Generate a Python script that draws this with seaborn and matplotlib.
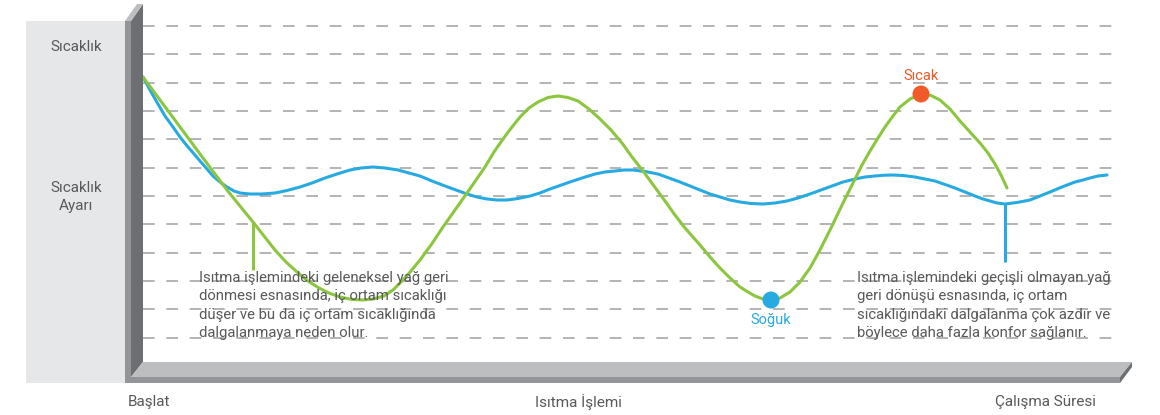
import numpy as np
import pandas as pd
import matplotlib
matplotlib.use('Agg')
import matplotlib.pyplot as plt
import seaborn as sns
from matplotlib.patches import Polygon, Rectangle

sns.set_theme(style='white')
plt.rcParams['font.family'] = ['Roboto', 'DejaVu Sans']

#%% data (time and temperature in arbitrary units)
green_t = [0, 20, 40, 60, 84, 110, 121, 132, 143, 154, 165, 176, 187, 197, 208, 219, 230, 241,
           250, 259, 268, 277, 288, 300, 312, 324, 333, 342, 351, 360, 369, 377, 386, 395,
           405, 415, 425, 435, 446, 457, 468, 479, 489, 500, 511, 522, 532, 542, 557, 567,
           577, 587, 597, 605, 612, 620, 628, 637, 647, 657, 667, 678, 689, 700, 712, 719,
           727, 735, 742, 750, 757, 767, 778, 788, 797, 807, 817, 827, 837, 845, 852, 858, 864]
green_temp = [289, 262, 235, 208, 176, 144, 130, 116, 104, 94, 85, 78, 72.5, 69, 66.7, 66, 67, 70,
              76, 85, 95, 106, 121, 139, 156, 173, 186, 199, 214, 227, 239, 249, 258, 264,
              268.5, 270, 268.5, 265, 257, 247, 236, 223, 209, 195, 180, 165, 151, 138, 121, 109,
              98, 88, 79, 74, 70, 67, 66, 68, 74, 84, 98, 118, 140, 163, 187, 201,
              215, 228, 239, 250, 259, 267, 272, 270.5, 266, 257, 245, 234, 223, 213, 202, 191, 178]

blue_t = [0, 7, 15, 22, 30, 37, 45, 52, 57, 64, 70, 77, 84, 91, 97, 107, 119, 132, 144, 157,
          169, 182, 194, 207, 218, 230, 242, 255, 266, 277, 289, 302, 313, 324, 334, 344, 354,
          364, 375, 387, 397, 407, 417, 427, 439, 452, 462, 472, 481, 490, 502, 515, 526,
          537, 547, 557, 567, 577, 587, 597, 608, 620, 632, 644, 655, 667, 678, 689, 700,
          712, 722, 732, 740, 749, 760, 772, 782, 792, 802, 812, 822, 832, 840, 847, 854,
          862, 874, 887, 897, 907, 919, 932, 940, 947, 955, 964]
blue_temp = [289, 276, 262, 250, 239, 229, 219, 211, 205, 197, 190, 184, 179, 175, 173, 172, 172,
             173, 175.5, 179, 183, 188, 192, 196, 198, 199, 198, 196, 193, 190, 185, 180, 176,
             172, 169, 167, 166, 166, 167.5, 170, 173, 177, 180.5, 184, 188, 192, 194, 195,
             196, 196, 194.5, 192, 188, 184, 180, 176, 172, 169, 166, 164, 162.5, 162, 163,
             165, 168, 172, 176, 180, 184, 187, 189, 190, 190.7, 191, 190.5, 189, 187, 185,
             181.5, 178, 174, 170, 167, 165, 163, 162, 163.5, 166, 170, 174, 179, 184, 186,
             188, 190, 191]

grid_levels = [28.3, 56.7, 85.0, 113.3, 141.7, 170.0, 198.3, 226.7, 255.0, 283.3, 311.7, 340.0]

point_t = [778, 628]
point_temp = [272, 66]
point_name = ['Sıcak', 'Soğuk']

green_lead = [110, 144, 96]   # x, top, bottom
blue_lead = [862, 162, 104]

txt_left = ('Isıtma işlemindeki geleneksel yağ geri\n'
            'dönmesi esnasında, iç ortam sıcaklığı\n'
            'düşer ve bu da iç ortam sıcaklığında\n'
            'dalgalanmaya neden olur.')
txt_right = ('Isıtma işlemindeki geçişli olmayan yağ\n'
             'geri dönüşü esnasında, iç ortam\n'
             'sıcaklığındaki dalgalanma çok azdır ve\n'
             'böylece daha fazla konfor sağlanır.')

GREEN = '#8cc63f'
BLUE = '#27aae1'
ORANGE = '#f15a29'
TXT = '#58595b'

#%% figure + background decoration (pixel coords)
W, H = 1160, 415
fig = plt.figure(figsize=(W / 100, H / 100), dpi=100)
bg = fig.add_axes([0, 0, 1, 1])
bg.set_xlim(0, W); bg.set_ylim(H, 0); bg.axis('off')

bg.add_patch(Rectangle((26, 21), 99, 362, color='#e6e7e8', lw=0))
# wall
bg.add_patch(Polygon([(131, 21), (143, 4), (143, 362), (131, 377)], color='#6d6e71', lw=0))
bg.add_patch(Polygon([(125, 21), (137, 4), (143, 4), (131, 21)], color='#bcbec0', lw=0))
bg.add_patch(Rectangle((125, 21), 6, 362, color='#939598', lw=0))
# floor
bg.add_patch(Polygon([(131, 377), (143, 362), (1132, 362), (1120, 377)], color='#bcbec0', lw=0))
bg.add_patch(Polygon([(1120, 377), (1132, 362), (1132, 367), (1120, 383)], color='#6d6e71', lw=0))
bg.add_patch(Rectangle((125, 377), 995, 6, color='#939598', lw=0))

bg.text(76, 47, 'Sıcaklık', ha='center', va='center', fontsize=11, color=TXT)
bg.text(76, 197, 'Sıcaklık\nAyarı', ha='center', va='center', fontsize=11, color=TXT,
        linespacing=1.4)
bg.text(128, 402, 'Başlat', ha='left', va='center', fontsize=11, color=TXT)
bg.text(578, 402, 'Isıtma İşlemi', ha='center', va='center', fontsize=11, color=TXT)
bg.text(1096, 402, 'Çalışma Süresi', ha='right', va='center', fontsize=11, color=TXT)

#%% data axes
ax = fig.add_axes([143 / W, 49 / H, 1000 / W, 362 / H])
ax.set_xlim(0, 1000)
ax.set_ylim(0, 362)
ax.axis('off')
ax.patch.set_alpha(0)

ax.hlines(grid_levels, 0, 977, colors='#b3b3b3', lw=1.4, linestyles=(0, (6, 6)), zorder=1)

df_g = pd.DataFrame({'t': green_t, 'temp': green_temp})
df_b = pd.DataFrame({'t': blue_t, 'temp': blue_temp})
sns.lineplot(data=df_b, x='t', y='temp', color=BLUE, lw=2.2, ax=ax, estimator=None,
             solid_joinstyle='round', solid_capstyle='round', zorder=3)
sns.lineplot(data=df_g, x='t', y='temp', color=GREEN, lw=2.2, ax=ax, estimator=None,
             solid_joinstyle='round', solid_capstyle='round', zorder=3)

ax.vlines(green_lead[0], green_lead[2], green_lead[1], color=GREEN, lw=2.2, zorder=3)
ax.vlines(blue_lead[0], blue_lead[2], blue_lead[1], color=BLUE, lw=2.2, zorder=3)

pts = pd.DataFrame({'t': point_t, 'temp': point_temp, 'name': point_name})
sns.scatterplot(data=pts, x='t', y='temp', hue='name', palette=[ORANGE, BLUE], s=150,
                edgecolor='none', legend=False, ax=ax, zorder=5)
ax.text(point_t[0], point_temp[0] + 18, point_name[0], ha='center', va='center',
        fontsize=10.5, color=ORANGE)
ax.text(point_t[1], point_temp[1] - 20, point_name[1], ha='center', va='center',
        fontsize=10.5, color=BLUE)

ax.text(56, 95, txt_left, ha='left', va='top', fontsize=10.7, color=TXT, linespacing=1.4)
ax.text(714, 95, txt_right, ha='left', va='top', fontsize=10.7, color=TXT, linespacing=1.4)
ax.set_xlabel(''); ax.set_ylabel('')

fig.savefig('out.png', dpi=100)
